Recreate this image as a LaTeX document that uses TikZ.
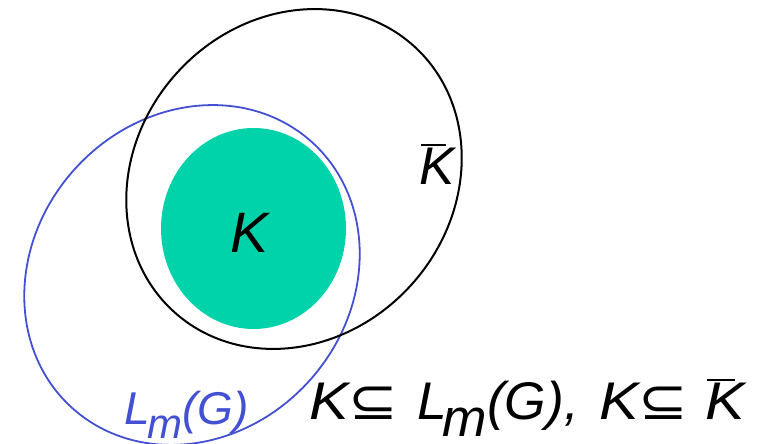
\documentclass[tikz,border=0pt]{standalone}
\usepackage{fontspec}
\setmainfont{Liberation Sans}
\newfontfamily\symf{DejaVu Sans}
\definecolor{kgreen}{RGB}{0,210,170}
\definecolor{lblue}{RGB}{68,80,212}
\newcommand\barK{\leavevmode\rlap{\kern0.04em\rule[0.74em]{0.47em}{0.035em}}K}
\newcommand\sbeq{{\symf\upshape ⊆}}
\tikzset{
  lbl/.style={anchor=base west, inner sep=0pt, font=\itshape},
  rellbl/.style={lbl, font=\fontsize{53}{56}\selectfont\itshape, xscale=1.12, transform shape},
  setline/.style={line width=2pt},
}
\begin{document}
\begin{tikzpicture}[x=1pt,y=1pt]
\useasboundingbox (0,0) rectangle (763,444);
\fill[kgreen] (253.5,215.5) ellipse [x radius=92.5pt, y radius=100.5pt];
\draw[lblue, line width=1.8pt, rotate around={48:(192,169)}] (192,169) ellipse [x radius=179pt, y radius=158pt];
\draw[setline, rotate around={48:(294,265)}] (294,265) ellipse [x radius=179pt, y radius=158pt];
\node[lbl, font=\fontsize{57}{60}\selectfont\itshape] (k) at (230,191) {K};
\node[lbl, font=\fontsize{53}{56}\selectfont\itshape] (kbar) at (419,259) {\barK};
\node[lbl, text=lblue, font=\fontsize{46}{48}\selectfont\itshape] (lm) at (124,19) {L\kern-0.06em\smash{\raisebox{-0.29em}{\fontsize{42}{42}\selectfont m}}(G)};
\node[rellbl] (rel1) at (309,24) {K\sbeq};
\node[rellbl, xscale=0.9] (rel2) at (417,24) {L\kern-0.08em\smash{\raisebox{-0.31em}{m}}(G),};
\node[rellbl] (rel3) at (599,24) {K\sbeq\ \barK};
\end{tikzpicture}
\end{document}
